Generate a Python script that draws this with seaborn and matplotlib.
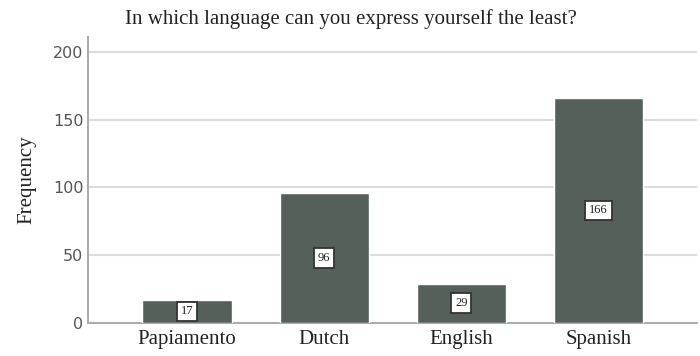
import matplotlib
matplotlib.use("Agg")
import matplotlib.pyplot as plt
import seaborn as sns
import pandas as pd

languages = ["Papiamento", "Dutch", "English", "Spanish"]
frequency = [17, 96, 29, 166]
y_ticks = [0, 50, 100, 150, 200]

df = pd.DataFrame({"language": languages, "frequency": frequency})

sns.set_style("white")
serif = ["Liberation Serif", "DejaVu Serif"]

fig = plt.figure(figsize=(7, 3.56), dpi=100)
ax = fig.add_axes([0.126, 0.093, 0.87, 0.803])

sns.barplot(data=df, x="language", y="frequency", color="#56605a",
            width=0.65, saturation=1, ax=ax, zorder=3)

# value labels in small white boxes at mid-height
for i, v in enumerate(frequency):
    ax.text(i, v / 2, str(v), ha="center", va="center", fontsize=9,
            family=serif, color="#222222", zorder=4,
            bbox=dict(boxstyle="square,pad=0.3", fc="white", ec="#333333", lw=1.3))

ax.set_xlim(-0.72, 3.72)
ax.set_ylim(0, 211)
ax.set_yticks(y_ticks)
ax.yaxis.grid(True, color="#dcdcdc", lw=1.5, zorder=0)
ax.set_axisbelow(True)

for s in ["top", "right"]:
    ax.spines[s].set_visible(False)
for s in ["left", "bottom"]:
    ax.spines[s].set_color("#aaaaaa")
    ax.spines[s].set_linewidth(1.4)

ax.tick_params(axis="both", length=0)
ax.tick_params(axis="y", labelsize=11.5, labelcolor="#555555", pad=3.5)
ax.tick_params(axis="x", pad=5)
for lab in ax.get_xticklabels():
    lab.set_family(serif)
    lab.set_fontsize(15)
    lab.set_color("#222222")

ax.set_xlabel("")
ax.set_ylabel("Frequency", family=serif, fontsize=15, color="#222222", labelpad=11.5)
fig.text(0.501, 0.947, "In which language can you express yourself the least?",
         ha="center", va="center", family=serif, fontsize=15, color="#222222")

fig.savefig("out.png", dpi=100)
